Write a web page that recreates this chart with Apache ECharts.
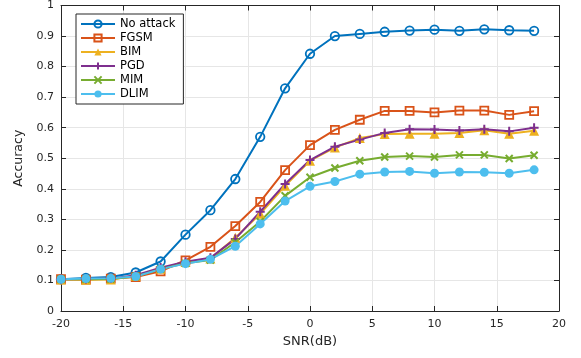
<!DOCTYPE html>
<html>
<head>
<meta charset="utf-8">
<script src="https://cdn.jsdelivr.net/npm/echarts@6/dist/echarts.min.js"></script>
<style>
html,body{margin:0;padding:0;background:#fff;}
#chart{width:581px;height:358px;}
</style>
</head>
<body>
<div id="chart"></div>
<script>
const snr = [-20,-18,-16,-14,-12,-10,-8,-6,-4,-2,0,2,4,6,8,10,12,14,16,18];
const seriesNames = ['No attack','FGSM','BIM','PGD','MIM','DLIM'];
const noAttack = [0.104,0.108,0.111,0.126,0.162,0.250,0.330,0.432,0.570,0.729,0.842,0.900,0.907,0.914,0.918,0.921,0.917,0.922,0.919,0.917];
const fgsm = [0.104,0.103,0.106,0.111,0.130,0.166,0.210,0.278,0.357,0.461,0.543,0.593,0.626,0.655,0.655,0.650,0.656,0.656,0.642,0.654];
const bim = [0.103,0.102,0.103,0.115,0.138,0.160,0.172,0.240,0.318,0.410,0.492,0.535,0.566,0.579,0.580,0.580,0.583,0.592,0.580,0.590];
const pgd = [0.104,0.105,0.106,0.117,0.142,0.161,0.174,0.236,0.325,0.416,0.494,0.538,0.561,0.583,0.595,0.594,0.591,0.595,0.588,0.600];
const mim = [0.104,0.104,0.105,0.113,0.137,0.156,0.167,0.225,0.293,0.377,0.438,0.468,0.492,0.504,0.507,0.504,0.511,0.511,0.499,0.510];
const dlim = [0.104,0.106,0.107,0.113,0.137,0.155,0.169,0.212,0.285,0.360,0.408,0.424,0.448,0.455,0.457,0.451,0.455,0.454,0.451,0.462];
const xTicks = [-20,-15,-10,-5,0,5,10,15,20];

const values = [noAttack, fgsm, bim, pgd, mim, dlim];
const colors = ['#0072BD','#D95319','#EDB120','#7E2F8E','#77AC30','#4DBEEE'];
const T = 'rgba(0,0,0,0)';
const markers = [
  {symbol:'circle', size:8.5, item:{color:T, borderWidth:1.8}},
  {symbol:'rect', size:8, item:{color:T, borderWidth:1.8}},
  {symbol:'triangle', size:10, item:{borderWidth:0}},
  {symbol:'path://M0,5L10,5M5,0L5,10', size:9, item:{color:T, borderWidth:2}},
  {symbol:'path://M0,0L10,10M10,0L0,10', size:7, item:{color:T, borderWidth:2}},
  {symbol:'circle', size:9, item:{borderWidth:0}}
];

const FONT = 'DejaVu Sans';
const axisCol = '#262626';

function mkSeries(i){
  const m = markers[i];
  const item = Object.assign({}, m.item);
  if (item.color === undefined) item.color = colors[i];
  item.borderColor = colors[i];
  return {
    name: seriesNames[i],
    type: 'line',
    data: snr.map((x,k)=>[x, values[i][k]]),
    symbol: m.symbol,
    symbolSize: m.size,
    showAllSymbol: true,
    itemStyle: item,
    lineStyle: {color: colors[i], width: 2},
    emphasis: {disabled: true},
    animation: false
  };
}

const chart = echarts.init(document.getElementById('chart'), null, {renderer:'canvas'});
chart.setOption({
  backgroundColor: '#fff',
  animation: false,
  grid: {left:61, right:22, top:3, bottom:47, containLabel:false},
  legend: {
    orient: 'vertical',
    left: 76, top: 14,
    data: seriesNames,
    itemWidth: 34, itemHeight: 9, itemGap: 2,
    padding: [4, 8, 4, 4],
    borderColor: axisCol, borderWidth: 1,
    backgroundColor: '#fff',
    textStyle: {fontFamily: FONT, fontSize: 11.5, color: '#000', lineHeight: 12},
    selectedMode: false
  },
  xAxis: [{
    type: 'value', min: -20, max: 20, interval: 5,
    name: 'SNR(dB)', nameLocation: 'middle', nameGap: 21,
    nameTextStyle: {fontFamily: FONT, fontSize: 13, color: axisCol},
    axisLine: {show: true, onZero: false, lineStyle: {color: axisCol, width: 1}},
    axisTick: {show: true, inside: true, length: 5, lineStyle: {color: axisCol}},
    axisLabel: {fontFamily: FONT, fontSize: 11, color: axisCol, margin: 8,
      formatter: v => xTicks.includes(v) ? String(v) : ''},
    splitLine: {show: true, lineStyle: {color: '#e6e6e6', width: 1}}
  },{
    type: 'value', position: 'top', min: -20, max: 20, interval: 5,
    axisLine: {show: true, onZero: false, lineStyle: {color: axisCol, width: 1}},
    axisTick: {show: true, inside: true, length: 5, lineStyle: {color: axisCol}},
    axisLabel: {show: false}, splitLine: {show: false}
  }],
  yAxis: [{
    type: 'value', min: 0, max: 1, interval: 0.1,
    name: 'Accuracy', nameLocation: 'middle', nameGap: 33,
    nameTextStyle: {fontFamily: FONT, fontSize: 12.5, color: axisCol},
    axisLine: {show: true, onZero: false, lineStyle: {color: axisCol, width: 1}},
    axisTick: {show: true, inside: true, length: 5, lineStyle: {color: axisCol}},
    axisLabel: {fontFamily: FONT, fontSize: 11, color: axisCol, margin: 7,
      formatter: v => String(Math.round(v*10)/10)},
    splitLine: {show: true, lineStyle: {color: '#e6e6e6', width: 1}}
  },{
    type: 'value', position: 'right', min: 0, max: 1, interval: 0.1,
    axisLine: {show: true, onZero: false, lineStyle: {color: axisCol, width: 1}},
    axisTick: {show: true, inside: true, length: 5, lineStyle: {color: axisCol}},
    axisLabel: {show: false}, splitLine: {show: false}
  }],
  series: seriesNames.map((_, i) => mkSeries(i))
});
</script>
</body>
</html>
